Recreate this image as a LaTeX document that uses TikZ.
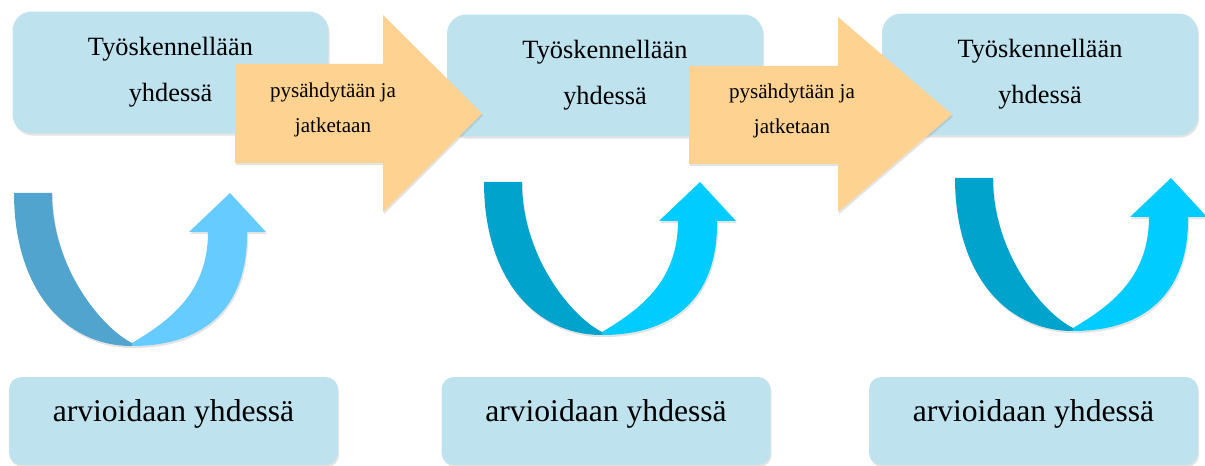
\documentclass[tikz,border=0pt]{standalone}
\usepackage{fontspec}
\setmainfont{Liberation Serif}
\usetikzlibrary{positioning}
\usetikzlibrary{shadows}
\definecolor{boxblue}{RGB}{190,226,238}
\definecolor{pauseorange}{RGB}{254,210,144}
\definecolor{darkturnA}{RGB}{80,164,206}
\definecolor{lightturnA}{RGB}{102,204,255}
\definecolor{darkturnB}{RGB}{0,163,204}
\definecolor{lightturnB}{RGB}{0,204,255}

\begin{document}
\begin{tikzpicture}[x=0.02cm,y=-0.02cm,
  softshadow/.style={drop shadow={opacity=0.22,shadow xshift=0.6pt,shadow yshift=-1.2pt}},
  work/.style={rectangle,rounded corners=11pt,fill=boxblue,minimum width=6.32cm,minimum height=2.44cm,inner sep=0pt,align=center,font=\rmfamily\fontsize{15}{26}\selectfont,softshadow},
  review/.style={rectangle,rounded corners=7pt,fill=boxblue,minimum width=6.58cm,minimum height=1.76cm,inner sep=0pt,text height=12pt,text depth=12pt,font=\rmfamily\fontsize{18}{22}\selectfont,softshadow},
  pause/.style={fill=pauseorange,softshadow},
  pausetext/.style={align=center,inner sep=0pt,font=\rmfamily\fontsize{12}{20.4}\selectfont}]
\useasboundingbox (0,0) rectangle (1205,466);

\node[review] (review1) at (173.5,421) {arvioidaan yhdessä};
\node[review] (review2) at (606,421) {arvioidaan yhdessä};
\node[review] (review3) at (1033.5,421) {arvioidaan yhdessä};

\begin{scope}[shift={(14,193)}]
\fill[darkturnA,softshadow] (0,0) -- (38,0) .. controls (38,75) and (88,135) .. (118,150) -- (118,153) .. controls (50,153) and (0,95) .. (0,0) -- cycle;
\fill[lightturnA,softshadow] (118,150) .. controls (155,128) and (194,100) .. (194,39) -- (175,39) -- (216,0) -- (252,39) -- (233,39) .. controls (234,110) and (195,153) .. (118,153) -- cycle;
\end{scope}
\begin{scope}[shift={(484,182)}]
\fill[darkturnB,softshadow] (0,0) -- (38,0) .. controls (38,75) and (88,135) .. (118,150) -- (118,153) .. controls (50,153) and (0,95) .. (0,0) -- cycle;
\fill[lightturnB,softshadow] (118,150) .. controls (155,128) and (194,100) .. (194,39) -- (175,39) -- (216,0) -- (252,39) -- (233,39) .. controls (234,110) and (195,153) .. (118,153) -- cycle;
\end{scope}
\begin{scope}[shift={(955,178)}]
\fill[darkturnB,softshadow] (0,0) -- (38,0) .. controls (38,75) and (88,135) .. (118,150) -- (118,153) .. controls (50,153) and (0,95) .. (0,0) -- cycle;
\fill[lightturnB,softshadow] (118,150) .. controls (155,128) and (194,100) .. (194,39) -- (175,39) -- (216,0) -- (252,39) -- (233,39) .. controls (234,110) and (195,153) .. (118,153) -- cycle;
\end{scope}

\node[work] (work1) at (170.5,72.5) {Työskennellään\\yhdessä};
\node[work] (work2) at (605,75.5) {Työskennellään\\yhdessä};
\node[work] (work3) at (1040,74.5) {Työskennellään\\yhdessä};

\fill[pause] (235,64) -- (383,64) -- (383,15) -- (482,113.5) -- (383,212) -- (383,163) -- (235,163) -- cycle;
\fill[pause] (689,66) -- (838,66) -- (838,17) -- (952,114.5) -- (838,212) -- (838,164) -- (689,164) -- cycle;
\node[pausetext] (pause1) at (333,110) {pysähdytään ja\\jatketaan};
\node[pausetext] (pause2) at (792,111) {pysähdytään ja\\jatketaan};

\end{tikzpicture}
\end{document}
